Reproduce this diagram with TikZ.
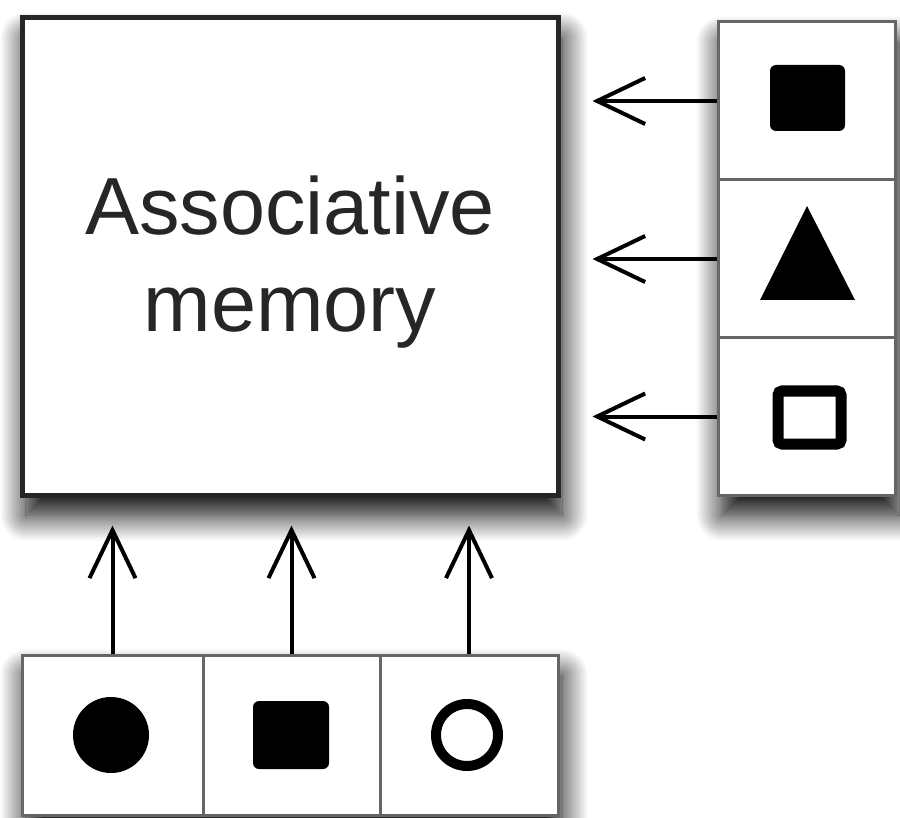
\documentclass[tikz,border=0pt]{standalone}
\usepackage{fontspec}
\setmainfont{Liberation Sans}
\usetikzlibrary{shadows.blur,arrows.meta}
\begin{document}
\begin{tikzpicture}[x=1pt,y=-1pt,
  shade box/.style={blur shadow={shadow xshift=4pt,shadow yshift=-20pt,shadow blur radius=26pt,shadow blur steps=20,shadow opacity=100}},
  mainbox/.style={draw=black!85,line width=5pt,fill=white,inner sep=0pt,shade box},
  grp/.style={fill=white,inner sep=0pt,shade box},
  cell/.style={draw=black!60,line width=3pt,fill=white,inner sep=0pt},
  arr/.style={line width=4pt,-{Straight Barb[length=48pt,width=46pt,line width=4pt]}}
]
\useasboundingbox (0,0) rectangle (900,818);
% main box
\node[mainbox,minimum width=536pt,minimum height=477pt] (mem) at (290,256.5) {};
\node[font=\fontsize{81}{97}\selectfont,align=center,text=black!85] (lbl) at (290,262) {Associative\\memory};
% right group
\node[grp,minimum width=177pt,minimum height=473pt] (rg) at (806.5,258.5) {};
\node[cell,minimum width=177pt,minimum height=158pt] (r1) at (806.5,101) {};
\node[cell,minimum width=177pt,minimum height=158pt] (r2) at (806.5,259) {};
\node[cell,minimum width=177pt,minimum height=157pt] (r3) at (806.5,416.5) {};
% bottom group
\node[grp,minimum width=536pt,minimum height=160pt] (bg) at (290,735) {};
\node[cell,minimum width=181pt,minimum height=160pt] (b1) at (112.5,735) {};
\node[cell,minimum width=177pt,minimum height=160pt] (b2) at (291.5,735) {};
\node[cell,minimum width=178pt,minimum height=160pt] (b3) at (469,735) {};
% symbols
\fill[rounded corners=6pt] (770,65) rectangle (845,131);
\fill[line join=round] (807,206) -- (855,300) -- (760,300) -- cycle;
\draw[line width=11pt,rounded corners=4pt] (778,391) rectangle (841,444);
\fill (111,735) circle (38pt);
\fill[rounded corners=6pt] (253,701) rectangle (329,769);
\draw[line width=10pt] (467,735) circle (31pt);
% arrows
\draw[arr,shorten >=32pt] (r1.west) -- (mem.east |- r1.west);
\draw[arr,shorten >=32pt] (r2.west) -- (mem.east |- r2.west);
\draw[arr,shorten >=32pt] (r3.west) -- (mem.east |- r3.west);
\draw[arr,shorten >=28pt] (b1.north) -- (mem.south -| b1.north);
\draw[arr,shorten >=28pt] (b2.north) -- (mem.south -| b2.north);
\draw[arr,shorten >=28pt] (b3.north) -- (mem.south -| b3.north);
\end{tikzpicture}
\end{document}
